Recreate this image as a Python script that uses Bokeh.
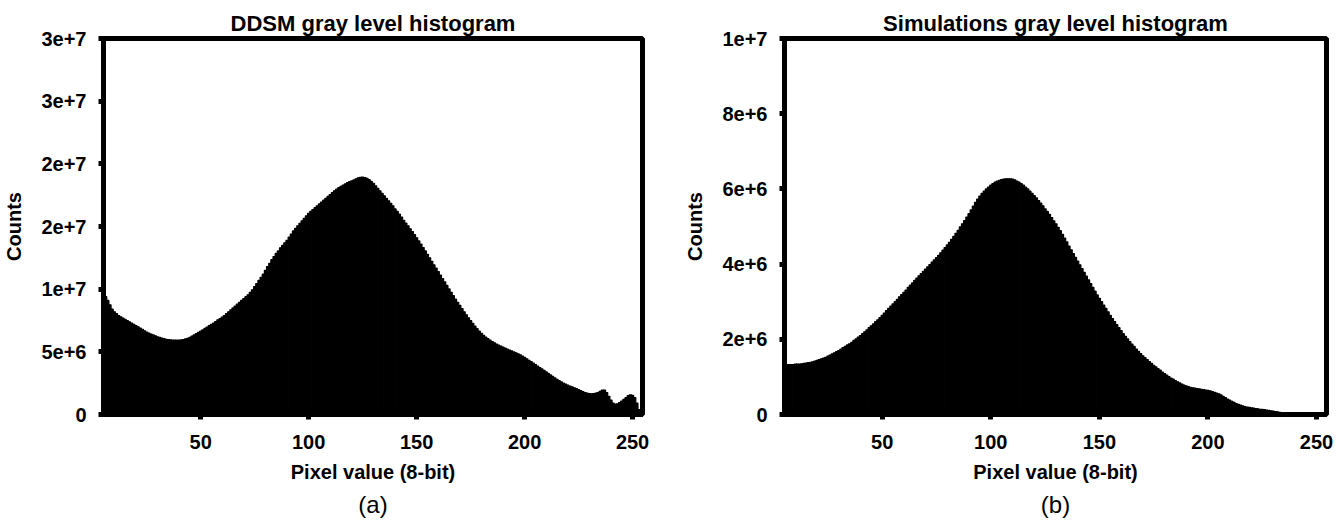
from bokeh.plotting import figure
from bokeh.models import Range1d, FixedTicker, Title, ColumnDataSource
from bokeh.layouts import row
from bokeh.embed import file_html
from bokeh.resources import INLINE

FONT = "Liberation Sans"

# ---------------- data (counts in millions) ----------------
ddsm_start = 5
ddsm_counts_m = [
    9.7, 9.4, 9.1, 8.75, 8.4, 8.2, 8.05, 7.9, 7.8, 7.7,            # 5-14
    7.6, 7.5, 7.4, 7.3, 7.2, 7.1, 7.0, 6.9, 6.8, 6.68,             # 15-24
    6.58, 6.5, 6.42, 6.35, 6.28, 6.2, 6.15, 6.1, 6.05, 6.0,        # 25-34
    5.98, 5.96, 5.94, 5.93, 5.93, 5.93, 5.95, 5.98, 6.03, 6.08,    # 35-44
    6.15, 6.25, 6.35, 6.45, 6.55, 6.65, 6.75, 6.87, 6.98, 7.1,     # 45-54
    7.2, 7.3, 7.42, 7.55, 7.65, 7.78, 7.9, 8.05, 8.2, 8.35,        # 55-64
    8.5, 8.65, 8.8, 8.95, 9.1, 9.25, 9.4, 9.55, 9.75, 9.95,        # 65-74
    10.2, 10.45, 10.7, 10.95, 11.2, 11.5, 11.8, 12.05, 12.35, 12.6,  # 75-84
    12.85, 13.05, 13.3, 13.5, 13.7, 13.9, 14.15, 14.4, 14.65, 14.85,  # 85-94
    15.05, 15.25, 15.45, 15.65, 15.85, 16.05, 16.2, 16.35, 16.5, 16.65,  # 95-104
    16.8, 16.95, 17.1, 17.25, 17.4, 17.55, 17.7, 17.85, 17.98, 18.1,  # 105-114
    18.2, 18.3, 18.4, 18.5, 18.58, 18.65, 18.72, 18.8, 18.88, 18.92,  # 115-124
    18.95, 18.9, 18.85, 18.75, 18.6, 18.45, 18.25, 18.05, 17.85, 17.65,  # 125-134
    17.45, 17.25, 17.05, 16.85, 16.65, 16.4, 16.2, 15.98, 15.75, 15.5,  # 135-144
    15.28, 15.05, 14.82, 14.6, 14.35, 14.1, 13.85, 13.6, 13.32, 13.05,  # 145-154
    12.78, 12.5, 12.22, 11.95, 11.68, 11.4, 11.12, 10.85, 10.58, 10.3,  # 155-164
    10.02, 9.75, 9.48, 9.2, 8.95, 8.7, 8.45, 8.2, 7.95, 7.72,      # 165-174
    7.5, 7.28, 7.05, 6.85, 6.65, 6.48, 6.32, 6.18, 6.05, 5.93,     # 175-184
    5.82, 5.72, 5.62, 5.53, 5.45, 5.37, 5.29, 5.21, 5.14, 5.07,    # 185-194
    4.99, 4.92, 4.84, 4.76, 4.66, 4.55, 4.45, 4.33, 4.22, 4.1,     # 195-204
    3.98, 3.87, 3.75, 3.64, 3.52, 3.4, 3.28, 3.16, 3.04, 2.92,     # 205-214
    2.81, 2.7, 2.6, 2.5, 2.42, 2.34, 2.27, 2.2, 2.13, 2.06,        # 215-224
    1.98, 1.9, 1.82, 1.75, 1.7, 1.66, 1.65, 1.66, 1.7, 1.75,       # 225-234
    1.85, 1.95, 1.95, 1.75, 1.45, 1.15, 0.9, 0.82, 0.85, 0.95,     # 235-244
    1.07, 1.2, 1.35, 1.5, 1.57, 1.52, 1.35, 0.9, 0.4, 0.25,        # 245-254
]

sim_start = 5
sim_counts_m = [
    1.33, 1.33, 1.33, 1.33, 1.33, 1.34, 1.34, 1.34, 1.35, 1.36,    # 5-14
    1.37, 1.38, 1.39, 1.40, 1.42, 1.44, 1.46, 1.48, 1.50, 1.52,    # 15-24
    1.55, 1.58, 1.61, 1.64, 1.67, 1.70, 1.74, 1.78, 1.81, 1.85,    # 25-34
    1.88, 1.92, 1.97, 2.01, 2.06, 2.10, 2.15, 2.20, 2.25, 2.31,    # 35-44
    2.36, 2.41, 2.47, 2.52, 2.58, 2.64, 2.70, 2.76, 2.82, 2.88,    # 45-54
    2.94, 3.00, 3.06, 3.13, 3.19, 3.25, 3.31, 3.38, 3.44, 3.50,    # 55-64
    3.57, 3.63, 3.69, 3.75, 3.81, 3.87, 3.93, 3.99, 4.05, 4.11,    # 65-74
    4.17, 4.23, 4.30, 4.37, 4.44, 4.51, 4.58, 4.66, 4.74, 4.82,    # 75-84
    4.90, 4.99, 5.07, 5.16, 5.25, 5.34, 5.44, 5.54, 5.64, 5.73,    # 85-94
    5.81, 5.88, 5.94, 6.00, 6.05, 6.10, 6.14, 6.18, 6.21, 6.23,    # 95-104
    6.25, 6.26, 6.27, 6.27, 6.27, 6.26, 6.24, 6.21, 6.18, 6.14,    # 105-114
    6.10, 6.05, 6.00, 5.94, 5.88, 5.82, 5.76, 5.69, 5.62, 5.55,    # 115-124
    5.47, 5.40, 5.32, 5.24, 5.15, 5.07, 4.98, 4.89, 4.79, 4.69,    # 125-134
    4.59, 4.48, 4.38, 4.28, 4.18, 4.08, 3.98, 3.88, 3.78, 3.68,    # 135-144
    3.58, 3.48, 3.38, 3.28, 3.18, 3.09, 3.00, 2.91, 2.82, 2.73,    # 145-154
    2.64, 2.55, 2.47, 2.39, 2.31, 2.23, 2.15, 2.08, 2.01, 1.94,    # 155-164
    1.87, 1.81, 1.74, 1.68, 1.62, 1.56, 1.51, 1.46, 1.41, 1.36,    # 165-174
    1.31, 1.27, 1.22, 1.18, 1.13, 1.09, 1.05, 1.01, 0.97, 0.94,    # 175-184
    0.90, 0.87, 0.84, 0.81, 0.78, 0.76, 0.74, 0.72, 0.71, 0.70,    # 185-194
    0.69, 0.68, 0.67, 0.66, 0.65, 0.64, 0.63, 0.61, 0.59, 0.57,    # 195-204
    0.55, 0.52, 0.48, 0.45, 0.41, 0.38, 0.35, 0.32, 0.29, 0.27,    # 205-214
    0.25, 0.23, 0.21, 0.20, 0.19, 0.18, 0.17, 0.16, 0.15, 0.14,    # 215-224
    0.135, 0.13, 0.12, 0.11, 0.10, 0.09, 0.08, 0.07, 0.06, 0.05,   # 225-234
    0.04,                                                          # 235
]

x_ticks = [50, 100, 150, 200, 250]
ddsm_y_ticks = [0, 5e6, 1e7, 1.5e7, 2e7, 2.5e7, 3e7]
ddsm_y_labels = ["0", "5e+6", "1e+7", "2e+7", "2e+7", "3e+7", "3e+7"]
sim_y_ticks = [0, 2e6, 4e6, 6e6, 8e6, 1e7]
sim_y_labels = ["0", "2e+6", "4e+6", "6e+6", "8e+6", "1e+7"]

titles = ["DDSM gray level histogram", "Simulations gray level histogram"]
captions = ["(a)", "(b)"]
x_label = "Pixel value (8-bit)"
y_label = "Counts"


def make_panel(start, counts_m, yticks, ylabels, ymax, title, caption,
               bl, br):
    xs = [start + i for i in range(len(counts_m))]
    tops = [c * 1e6 for c in counts_m]
    src = ColumnDataSource(dict(x=xs, top=tops))
    p = figure(width=672, height=523, output_backend="svg",
               toolbar_location=None,
               x_range=Range1d(5, 254.6), y_range=Range1d(0, ymax),
               min_border_left=bl, min_border_right=br,
               min_border_top=38, min_border_bottom=109)
    p.vbar(x="x", top="top", width=1.0, source=src,
           fill_color="black", line_color="black", line_width=1.2)
    p.grid.visible = False
    p.background_fill_color = "white"
    p.border_fill_color = "white"
    p.outline_line_color = "black"
    p.outline_line_width = 5
    p.outline_line_alpha = 1.0

    p.title.text = title
    p.title.align = "center"
    p.title.text_font = FONT
    p.title.text_font_size = "22px"
    p.title.text_font_style = "bold"
    p.title.text_color = "black"
    p.title.standoff = 6

    for ax in (p.xaxis[0], p.yaxis[0]):
        ax.axis_line_width = 5
        ax.axis_line_color = "black"
        ax.major_tick_line_width = 5
        ax.major_tick_line_color = "black"
        ax.major_tick_out = 5
        ax.major_tick_in = 0
        ax.minor_tick_line_color = None
        ax.major_label_text_font = FONT
        ax.major_label_text_font_size = "20px"
        ax.major_label_text_font_style = "bold"
        ax.major_label_text_color = "black"
        ax.axis_label_text_font = FONT
        ax.axis_label_text_font_size = "20px"
        ax.axis_label_text_font_style = "bold"
        ax.axis_label_text_color = "black"

    p.xaxis.ticker = FixedTicker(ticks=x_ticks)
    p.xaxis.axis_label = x_label
    p.xaxis.major_label_standoff = 15
    p.xaxis.axis_label_standoff = 9

    p.yaxis.ticker = FixedTicker(ticks=[float(t) for t in yticks])
    p.yaxis.major_label_overrides = {float(t): l for t, l in zip(yticks, ylabels)}
    p.yaxis.axis_label = y_label
    p.yaxis.major_label_standoff = 12
    p.yaxis.axis_label_standoff = 13

    p.add_layout(Title(text=caption, align="center", text_font=FONT,
                       text_font_size="24px", text_font_style="normal",
                       text_color="black", standoff=7), "below")
    return p


pa = make_panel(ddsm_start, ddsm_counts_m, ddsm_y_ticks, ddsm_y_labels, 3e7,
                titles[0], captions[0], 103, 30)
pb = make_panel(sim_start, sim_counts_m, sim_y_ticks, sim_y_labels, 1e7,
                titles[1], captions[1], 112, 18)

layout = row(pa, pb)
open("out.html", "w").write(file_html(layout, INLINE))
